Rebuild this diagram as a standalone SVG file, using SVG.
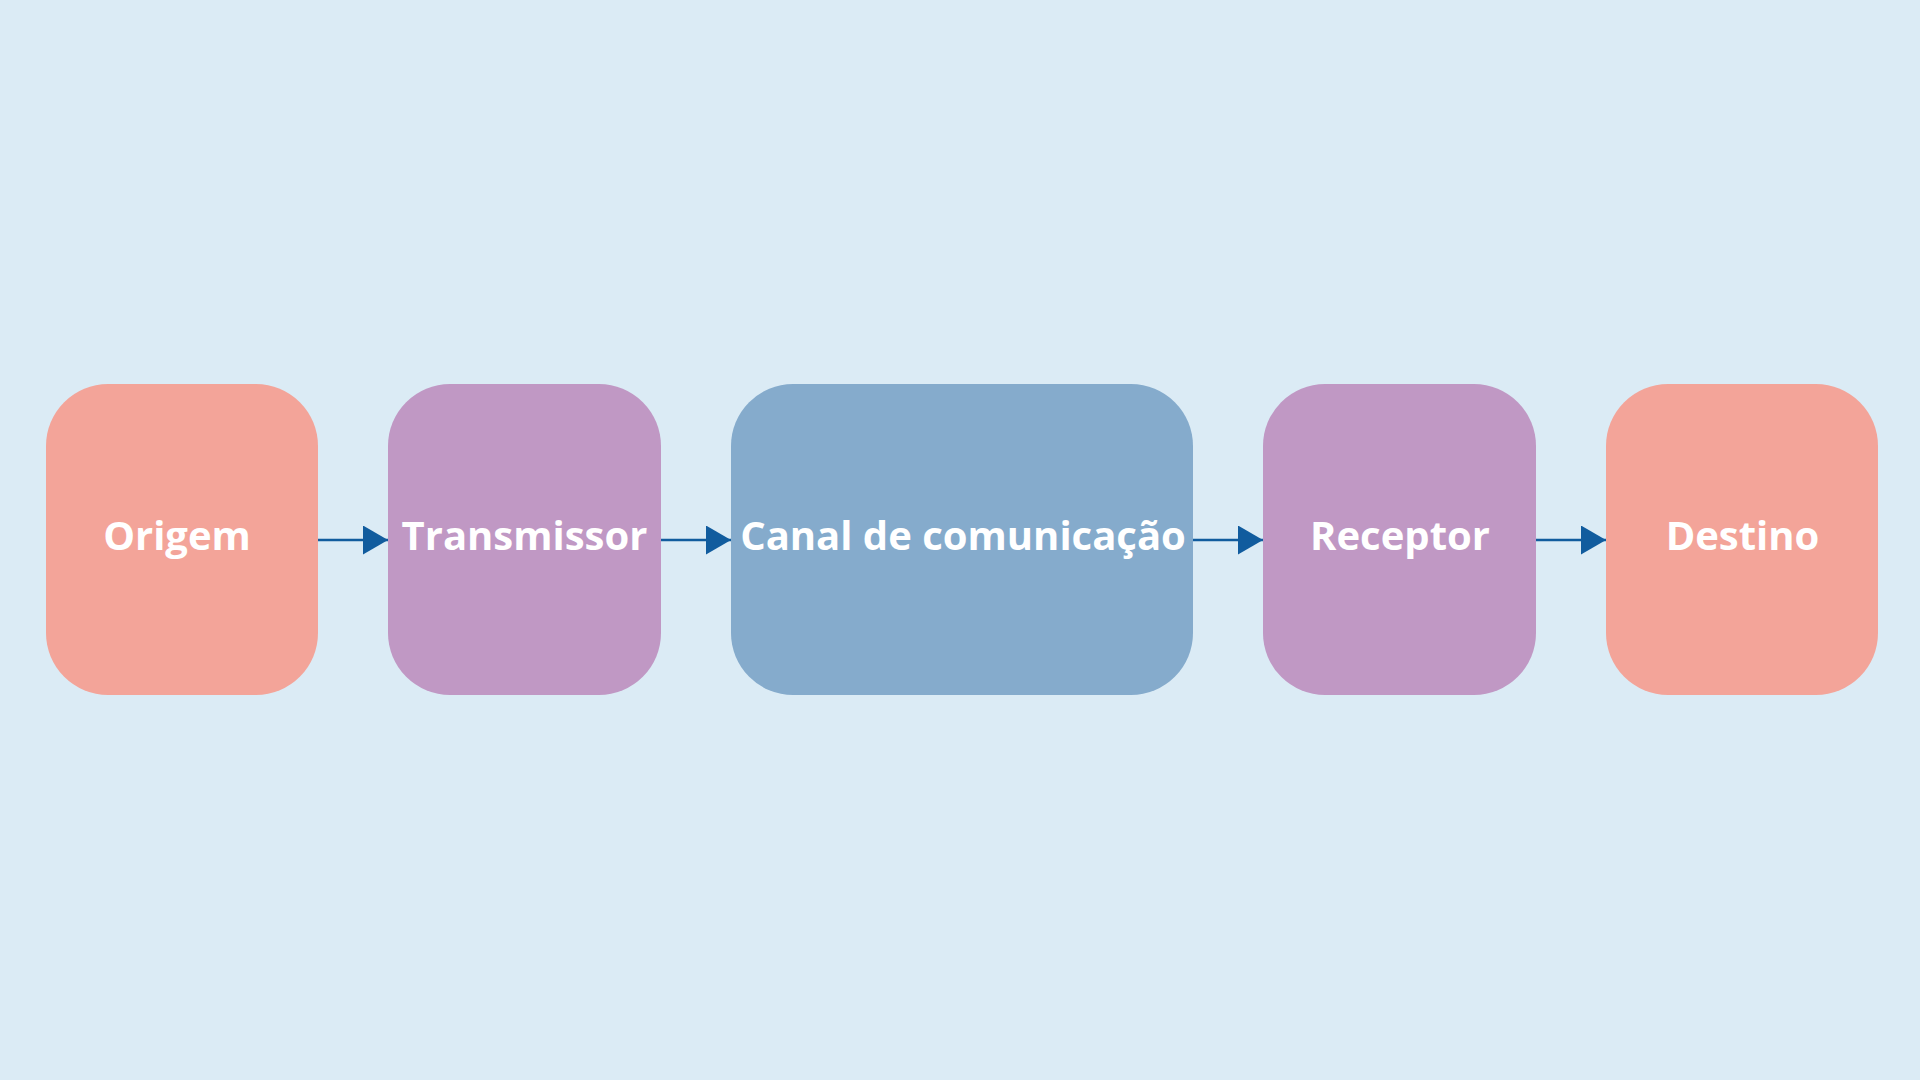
<svg xmlns="http://www.w3.org/2000/svg" width="1920" height="1080" viewBox="0 0 1920 1080">
<style>
.lbl{font-family:"Open Sans","Noto Sans","Liberation Sans",sans-serif;font-weight:700;font-size:40px;fill:#ffffff;text-anchor:middle}
.salmon{fill:#F3A499}
.purple{fill:#C098C4}
.blue{fill:#85ABCC}
.conn{stroke:#115C9E;stroke-width:2.5;fill:none}
</style>
<defs>
<marker id="ah" markerWidth="25" markerHeight="29" refX="25" refY="14.5" orient="auto" markerUnits="userSpaceOnUse">
<path d="M0,0 L25,14.5 L0,29 Z" fill="#115C9E"/>
</marker>
</defs>
<rect width="1920" height="1080" fill="#DBEBF5"/>
<g id="connectors">
<line class="conn" x1="318" y1="540" x2="388" y2="540" marker-end="url(#ah)"/>
<line class="conn" x1="661" y1="540" x2="731" y2="540" marker-end="url(#ah)"/>
<line class="conn" x1="1193" y1="540" x2="1263" y2="540" marker-end="url(#ah)"/>
<line class="conn" x1="1536" y1="540" x2="1606" y2="540" marker-end="url(#ah)"/>
</g>
<g id="origem">
<rect class="salmon" x="46" y="384" width="272" height="311" rx="62"/>
<text class="lbl" x="177" y="550">Origem</text>
</g>
<g id="transmissor">
<rect class="purple" x="388" y="384" width="273" height="311" rx="62"/>
<text class="lbl" x="524.5" y="550">Transmissor</text>
</g>
<g id="canal">
<rect class="blue" x="731" y="384" width="462" height="311" rx="62"/>
<text class="lbl" x="963" y="550">Canal de comunicação</text>
</g>
<g id="receptor">
<rect class="purple" x="1263" y="384" width="273" height="311" rx="62"/>
<text class="lbl" x="1400" y="550">Receptor</text>
</g>
<g id="destino">
<rect class="salmon" x="1606" y="384" width="272" height="311" rx="62"/>
<text class="lbl" x="1742.5" y="550">Destino</text>
</g>
</svg>
